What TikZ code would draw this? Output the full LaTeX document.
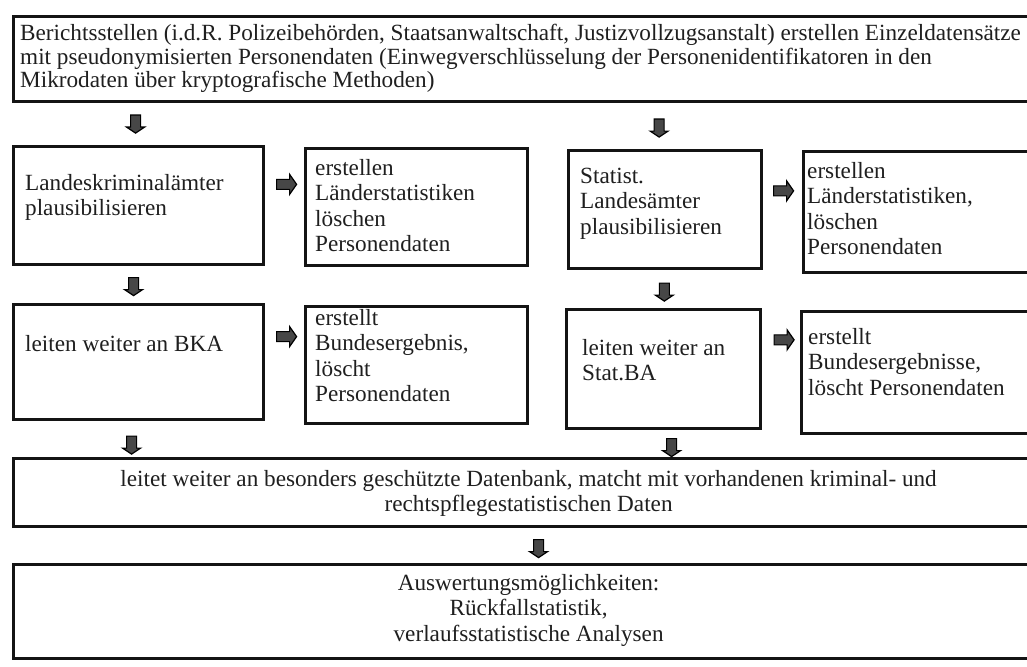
\documentclass[tikz,border=0pt]{standalone}
\usepackage{fontspec}
\setmainfont{Liberation Serif}
\usetikzlibrary{calc}
\newcommand\lnsL[1]{\begin{tabular}[t]{@{}l@{}}#1\end{tabular}}
\newcommand\lnsC[1]{\begin{tabular}[t]{@{}c@{}}#1\end{tabular}}
\begin{document}
\begin{tikzpicture}[x=1pt,y=-1pt,
  box/.style={draw=black!92, line width=3.2pt, inner sep=0pt, anchor=north west},
  txt/.style={inner sep=0pt, anchor=base west, text=black!88, font=\fontsize{23.2}{25.5}\selectfont},
  ctxt/.style={txt, anchor=base},
  arrowfill/.style={fill=black!72, draw=black, line width=1.2pt, line join=miter},
  darr/.pic={\draw[arrowfill] (-5,-9) -- (5,-9) -- (5,3) -- (9,3) -- (0,9) -- (-9,3) -- (-5,3) -- cycle;},
  rarr/.pic={\draw[arrowfill] (-10,-5) -- (3,-5) -- (3,-10) -- (10,0) -- (3,10) -- (3,5) -- (-10,5) -- cycle;}]
\useasboundingbox[fill=white] (0,0) rectangle (1027,666);

% boxes
\node[box, minimum width=1030pt, minimum height=85pt]  (T) at (12,15)  {};
\node[box, minimum width=250pt,  minimum height=118pt] (A) at (12,145) {};
\node[box, minimum width=222pt,  minimum height=117pt] (B) at (304,147) {};
\node[box, minimum width=193pt,  minimum height=118pt] (C) at (567,149) {};
\node[box, minimum width=240pt,  minimum height=121pt] (D) at (802,150) {};
\node[box, minimum width=250pt,  minimum height=115pt] (E) at (12,303) {};
\node[box, minimum width=222pt,  minimum height=117pt] (F) at (304,305) {};
\node[box, minimum width=194pt,  minimum height=119pt] (G) at (565,308) {};
\node[box, minimum width=242pt,  minimum height=122pt] (H) at (800,310) {};
\node[box, minimum width=1030pt, minimum height=68pt]  (I) at (12,457) {};
\node[box, minimum width=1030pt, minimum height=94pt]  (J) at (12,563) {};

% texts
\node[txt, font=\fontsize{23.2}{23.5}\selectfont] (tT) at ($(T.north west)+(8,26)$) {\lnsL{Berichtsstellen (i.d.R. Polizeibehörden, Staatsanwaltschaft, Justizvollzugsanstalt) erstellen Einzeldatensätze\\mit pseudonymisierten Personendaten (Einwegverschlüsselung der Personenidentifikatoren in den\\Mikrodaten über kryptografische Methoden)}};
\node[txt] (tA) at ($(A.north west)+(13,45)$) {\lnsL{Landeskriminalämter\\plausibilisieren}};
\node[txt] (tB) at ($(B.north west)+(11,28)$) {\lnsL{erstellen\\Länderstatistiken\\löschen\\Personendaten}};
\node[txt] (tC) at ($(C.north west)+(13,34)$) {\lnsL{Statist.\\Landesämter\\plausibilisieren}};
\node[txt] (tD) at ($(D.north west)+(5,28)$) {\lnsL{erstellen\\Länderstatistiken,\\löschen\\Personendaten}};
\node[txt] (tE) at ($(E.north west)+(13,48)$) {\lnsL{leiten weiter an BKA}};
\node[txt] (tF) at ($(F.north west)+(11,20)$) {\lnsL{erstellt\\Bundesergebnis,\\löscht\\Personendaten}};
\node[txt] (tG) at ($(G.north west)+(17,47)$) {\lnsL{leiten weiter an\\Stat.BA}};
\node[txt] (tH) at ($(H.north west)+(8,34)$) {\lnsL{erstellt\\Bundesergebnisse,\\löscht Personendaten}};
\node[ctxt] (tI) at ($(I.north)+(0,29)$) {\lnsC{leitet weiter an besonders geschützte Datenbank, matcht mit vorhandenen kriminal- und\\rechtspflegestatistischen Daten}};
\node[ctxt] (tJ) at ($(J.north)+(0,27)$) {\lnsC{Auswertungsmöglichkeiten:\\Rückfallstatistik,\\verlaufsstatistische Analysen}};

% block arrows
\pic at ($(A.north)!0.5!(T.south -| A.north)+(-3,0)$) {darr};
\pic at ($(C.north)!0.5!(T.south -| C.north)+(-6,2)$) {darr};
\pic at ($(A.east)!0.5!(B.west)+(2,-22)$) {rarr};
\pic at ($(C.east)!0.5!(D.west)+(1,-20)$) {rarr};
\pic at ($(A.south)!0.5!(E.north)+(-5,2)$) {darr};
\pic at ($(C.south)!0.5!(G.north)+(0,3)$) {darr};
\pic at ($(E.east)!0.5!(F.west)+(2,-27)$) {rarr};
\pic at ($(G.east)!0.5!(H.west)+(3,-31)$) {rarr};
\pic at ($(E.south)!0.5!(I.north -| E.south)+(-7,6)$) {darr};
\pic at ($(G.south)!0.5!(I.north -| G.south)+(8,4)$) {darr};
\pic at ($(I.south)!0.5!(J.north)+(10,3)$) {darr};
\end{tikzpicture}
\end{document}
